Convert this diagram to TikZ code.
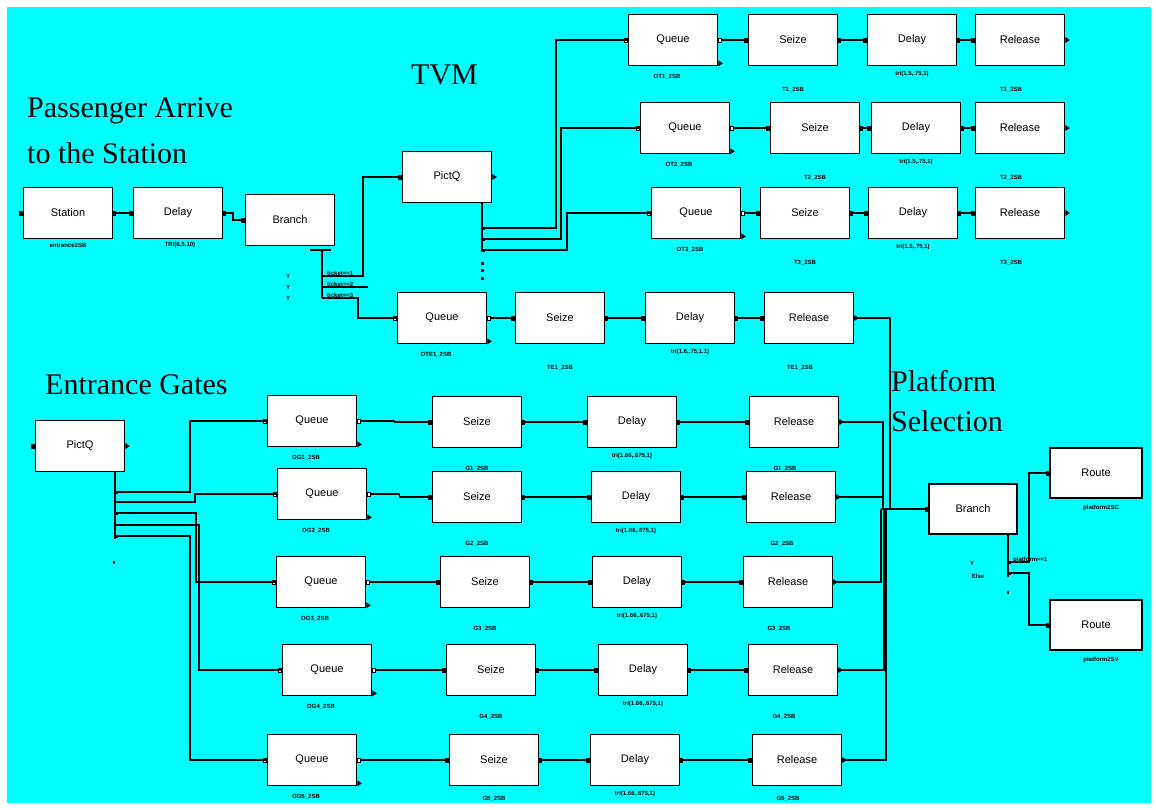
\documentclass[tikz,border=0pt]{standalone}
\usepackage{fontspec}
\setmainfont{Liberation Serif}
\setsansfont{Liberation Sans}
\usetikzlibrary{calc}
\definecolor{bg}{HTML}{00FFFF}
\tikzset{
  blk/.style={draw=black, fill=white, line width=1.6pt, inner sep=0pt,
    font=\sffamily\fontsize{11}{12}\selectfont,
    minimum width=89pt, minimum height=51pt},
  wire/.style={line width=1.3pt, black},
  tag/.style={font=\sffamily\bfseries\fontsize{6}{7}\selectfont, inner sep=0pt},
  title/.style={font=\fontsize{30}{32}\selectfont, inner sep=0pt, anchor=west},
}
% port markers
\newcommand\inport[1]{\fill (#1) ++(-3.5,-2.5) rectangle ++(3.5,5);}
\newcommand\hport[1]{\filldraw[fill=white,line width=.6pt] (#1) ++(-3,-2) rectangle ++(3,4);}
\newcommand\outport[1]{\fill (#1) ++(0,-2.5) rectangle ++(3,5);}
\newcommand\outtri[1]{\fill (#1) -- ++(0,-3) -- ++(4.5,3) -- ++(-4.5,3) -- cycle;}
\newcommand\tap[1]{\fill (#1) ++(0,-1.5) rectangle ++(3,3);}
% Queue -> Seize -> Delay -> Release chain
% #1 prefix, #2 queue y, #3 y of the other blocks, #4..#7 x positions
\newcommand\chain[7]{%
  \node[blk] (#1q) at (#4,#2) {Queue};
  \node[blk] (#1s) at (#5,#3) {Seize};
  \node[blk] (#1d) at (#6,#3) {Delay};
  \node[blk] (#1r) at (#7,#3) {Release};
  \coordinate (#1m) at ($(#1q.east)!.5!(#1s.west)$);
  \draw[wire] (#1q.east) -| (#1m) |- (#1s.west);
  \draw[wire] (#1s) -- (#1d);
  \draw[wire] (#1d) -- (#1r);
  \hport{#1q.west}
  \hport{$(#1q.east)+(3,0)$}
  \outtri{$(#1q.south east)+(0,-3)$}
  \inport{#1s.west}\outport{#1s.east}
  \inport{#1d.west}\outport{#1d.east}
  \inport{#1r.west}\outtri{#1r.east}}
% labels: #6 = gap under Seize/Release
\newcommand\chainlabels[6]{%
  \node[tag] (#1ql) at ($(#1q.south)+(-6,10)$) {#2};
  \node[tag] (#1sl) at ($(#1s.south)+(0,#6)$) {#3};
  \node[tag] (#1dl) at ($(#1d.south)+(0,8)$) {#4};
  \node[tag] (#1rl) at ($(#1r.south)+(-9,#6)$) {#5};}
\begin{document}
\begin{tikzpicture}[x=1pt,y=-1pt]
\useasboundingbox (0,0) rectangle (1156,809);
\fill[white] (0,0) rectangle (1156,809);
\fill[bg] (7,7) rectangle (1151,803);

% headings
\node[title] (ttl-pa) at (27,111) {Passenger Arrive};
\node[title] (ttl-st) at (27,153) {to the Station};
\node[title] (ttl-tvm) at (411,75) {TVM};
\node[title] (ttl-eg) at (45,385) {Entrance Gates};
\node[title] (ttl-pl) at (891,381) {Platform};
\node[title] (ttl-se) at (891,421) {Selection};

% arrival
\node[blk] (stn) at (68,213) {Station};
\node[blk] (dly0) at (178,213) {Delay};
\node[blk] (br0) at (290,220) {Branch};
\node[tag] (stnl) at (68,245) {entrance2SB};
\node[tag] (dly0l) at (180,245) {TRI(6,5,10)};
\inport{stn.west}\outport{stn.east}
\inport{dly0.west}\outport{dly0.east}
\inport{br0.west}
\draw[wire] (stn) -- (dly0);
\coordinate (d0k) at (233,213);
\draw[wire] (dly0.east) -- (d0k) |- (br0.west);

% ticket branch outputs
\draw[wire] (310,250) -- (331,250);
\coordinate (b0top) at (322,250);
\coordinate (b0o1) at (322,276);
\coordinate (b0o2) at (322,287);
\coordinate (b0o3) at (322,298);
\coordinate (b0e2) at (368,287);
\draw[wire] (b0top) -- (b0o3);

\node[blk] (pq1) at (447,177) {PictQ};
\inport{pq1.west}\outtri{pq1.east}
\coordinate (b0k1) at (363,276);
\draw[wire] (b0o1) -- (b0k1) |- (pq1.west);
\draw[wire] (b0o2) -- (b0e2);
\coordinate (b0k3) at (358,298);

\node[tag,anchor=south west] (bl1) at (327,276) {ticket==1};
\node[tag,anchor=south west] (bl2) at (327,287) {ticket==2};
\node[tag,anchor=south west] (bl3) at (327,298) {ticket==3};
\node[tag] (by1) at (288,276) {Y};
\node[tag] (by2) at (288,287) {Y};
\node[tag] (by3) at (288,298) {Y};

% ticket vending machines
\chain{a}{40}{40}{673}{793}{912}{1020}
\chain{b}{128}{128}{685}{815}{916}{1020}
\chain{c}{213}{213}{696}{805}{913}{1020}
\chainlabels{a}{OT1\_2SB}{T1\_2SB}{tri(1.5,.75,1)}{T1\_2SB}{23}
\chainlabels{b}{OT2\_2SB}{T2\_2SB}{tri(1.5,.75,1)}{T2\_2SB}{23}
\chainlabels{c}{OT3\_2SB}{T3\_2SB}{tri(1.5,.75,1)}{T3\_2SB}{23}

\coordinate (p1top) at (482,202);
\coordinate (p1o1) at (482,228);
\coordinate (p1o2) at (482,239);
\coordinate (p1o3) at (482,250);
\coordinate (p1end) at (482,252);
\draw[wire] (p1top) -- (p1end);
\coordinate (p1k1) at (556,228);
\coordinate (p1k2) at (561,239);
\coordinate (p1k3) at (567,250);
\draw[wire] (p1o1) -- (p1k1) |- (aq.west);
\draw[wire] (p1o2) -- (p1k2) |- (bq.west);
\draw[wire] (p1o3) -- (p1k3) |- (cq.west);
\tap{p1o1}\tap{p1o2}\tap{p1o3}
\foreach \yy in {262,269,277} \fill (480.5,\yy) rectangle ++(3,2.5);

% ticketed passengers
\chain{e}{318}{318}{442}{560}{690}{809}
\chainlabels{e}{OTE1\_2SB}{TE1\_2SB}{tri(1.6,.75,1.1)}{TE1\_2SB}{23}
\draw[wire] (b0o3) -- (b0k3) |- (eq.west);

% entrance gates
\node[blk] (pq2) at (80,446) {PictQ};
\inport{pq2.west}\outtri{pq2.east}
\chain{g}{421}{422}{312}{477}{632}{794}
\chain{h}{494}{497}{322}{477}{636}{791}
\chain{i}{582}{582}{321}{485}{637}{788}
\chain{j}{670}{670}{327}{491}{643}{793}
\chain{k}{760}{760}{312}{494}{635}{797}
\chainlabels{g}{OG1\_2SB}{G1\_2SB}{tri(1.66,.675,1)}{G1\_2SB}{20}
\chainlabels{h}{OG2\_2SB}{G2\_2SB}{tri(1.66,.675,1)}{G2\_2SB}{20}
\chainlabels{i}{OG3\_2SB}{G3\_2SB}{tri(1.66,.675,1)}{G3\_2SB}{20}
\chainlabels{j}{OG4\_2SB}{G4\_2SB}{tri(1.66,.675,1)}{G4\_2SB}{20}
\chainlabels{k}{OG5\_2SB}{G5\_2SB}{tri(1.66,.675,1)}{G5\_2SB}{12}

\coordinate (p2top) at (115,472);
\coordinate (p2end) at (115,539);
\coordinate (p2o1) at (115,492);
\coordinate (p2o2) at (115,502);
\coordinate (p2o3) at (115,513);
\coordinate (p2o4) at (115,525);
\coordinate (p2o5) at (115,536);
\draw[wire] (p2top) -- (p2end);
\coordinate (p2k1) at (190,492);
\coordinate (p2k2) at (195,502);
\coordinate (p2k3) at (196,513);
\coordinate (p2k4) at (199,525);
\coordinate (p2k5) at (190,536);
\draw[wire] (p2o1) -- (p2k1) |- (gq.west);
\draw[wire] (p2o2) -- (p2k2) |- (hq.west);
\draw[wire] (p2o3) -- (p2k3) |- (iq.west);
\draw[wire] (p2o4) -- (p2k4) |- (jq.west);
\draw[wire] (p2o5) -- (p2k5) |- (kq.west);
\tap{p2o1}\tap{p2o3}\tap{p2o5}
\fill (112.5,561) rectangle ++(2,3);

% platform selection
\node[blk, minimum width=88pt, minimum height=50pt] (br2) at (973,509) {Branch};
\node[blk, minimum width=92pt, minimum height=50pt] (rt1) at (1096,473) {Route};
\node[blk, minimum width=92pt, minimum height=50pt] (rt2) at (1096,625) {Route};
\node[tag] (rt1l) at (1101,508) {platform2SC};
\node[tag] (rt2l) at (1101,660) {platform2SV};
\inport{br2.west}\inport{rt1.west}\inport{rt2.west}

\coordinate (mgb) at (881,509);
\coordinate (mte) at (890,318);
\coordinate (mte2) at (890,509);
\coordinate (mg1) at (883,422);
\coordinate (mg1b) at (883,509);
\coordinate (mg2) at (883,497);
\coordinate (mg3) at (881,582);
\coordinate (mg4) at (884,670);
\coordinate (mg4b) at (884,509);
\coordinate (mg5) at (886,760);
\coordinate (mg5b) at (886,509);
\draw[wire] (er.east) -- (mte) -- (mte2);
\draw[wire] (gr.east) -- (mg1) -- (mg1b);
\draw[wire] (hr.east) -- (mg2) -- (mg1b);
\draw[wire] (ir.east) -- (mg3) -- (mgb);
\draw[wire] (jr.east) -- (mg4) -- (mg4b);
\draw[wire] (kr.east) -- (mg5) -- (mg5b);
\draw[wire] (mgb) -- (br2.west);

\coordinate (b2top) at (1008,534);
\coordinate (b2o1) at (1008,562);
\coordinate (b2o2) at (1008,573);
\coordinate (b2end) at (1008,577);
\draw[wire] (b2top) -- (b2end);
\coordinate (b2k1) at (1029,562);
\coordinate (b2k2) at (1029,573);
\draw[wire] (b2o1) -- (b2k1) |- (rt1.west);
\draw[wire] (b2o2) -- (b2k2) |- (rt2.west);
\tap{b2o1}\tap{b2o2}
\fill (1007,591) rectangle ++(2,3);
\node[tag,anchor=south west] (b2l1) at (1013,563) {platform==1};
\node[tag] (b2y) at (972,563) {Y};
\node[tag] (b2else) at (978,576) {Else};
\end{tikzpicture}
\end{document}
